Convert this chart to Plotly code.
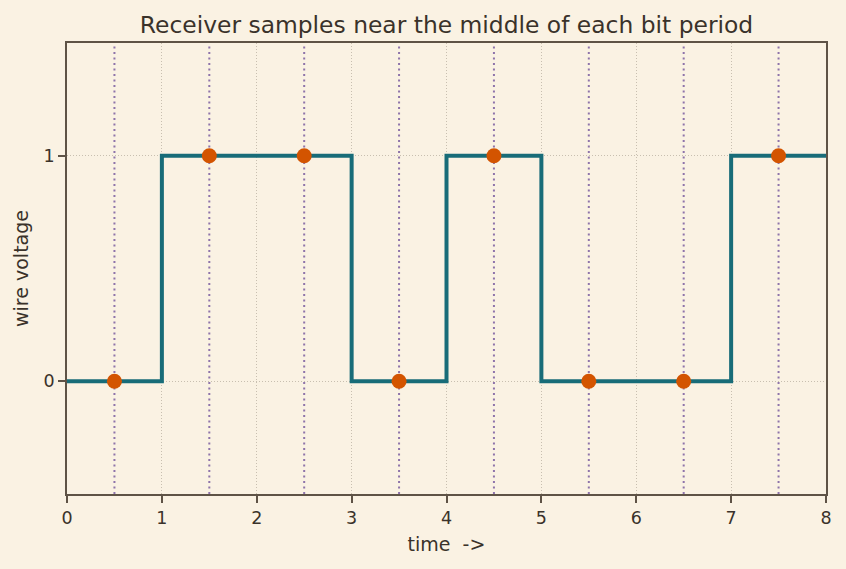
import plotly.graph_objects as go

bits = [0, 1, 1, 0, 1, 0, 0, 1]
bit_edges = [0, 1, 2, 3, 4, 5, 6, 7, 8]
sample_times = [0.5, 1.5, 2.5, 3.5, 4.5, 5.5, 6.5, 7.5]
sample_values = [0, 1, 1, 0, 1, 0, 0, 1]
x_ticks = [0, 1, 2, 3, 4, 5, 6, 7, 8]
y_ticks = [0, 1]

bg = "#faf2e3"
ink = "#3a322a"
frame = "#5e5346"

fig = go.Figure()
fig.add_trace(go.Scatter(
    x=bit_edges, y=bits + [bits[-1]], mode="lines", line_shape="hv",
    line=dict(color="#186c78", width=4), showlegend=False, hoverinfo="skip"))

for t in sample_times:
    fig.add_vline(x=t, line=dict(color="#8e74aa", width=2, dash="2px,3.5px"), layer="below")

fig.add_trace(go.Scatter(
    x=sample_times, y=sample_values, mode="markers",
    marker=dict(color="#d35400", size=15, line=dict(width=0)), showlegend=False))

axis_common = dict(
    showline=True, linecolor=frame, linewidth=1.6, mirror=True,
    ticks="outside", tickcolor=frame, ticklen=7, tickwidth=1.6,
    showgrid=True, gridcolor="#c8bfb0", griddash="1px,2px", gridwidth=1,
    zeroline=False, tickfont=dict(size=17.5, color=ink),
)

fig.update_layout(
    width=846, height=569,
    paper_bgcolor=bg, plot_bgcolor=bg,
    font=dict(family="DejaVu Sans", color=ink),
    margin=dict(l=67, r=20, t=43, b=75),
    title=dict(text="Receiver samples near the middle of each bit period",
               x=0.5, xref="paper", xanchor="center", y=0.956, yanchor="middle",
               font=dict(size=23.4, color=ink)),
    xaxis=dict(range=[0, 8], tickvals=x_ticks,
               title=dict(text="time  ->", font=dict(size=19, color=ink), standoff=11),
               **axis_common),
    yaxis=dict(range=[-0.5, 1.5], tickvals=y_ticks,
               title=dict(text="wire voltage", font=dict(size=19, color=ink), standoff=10),
               **axis_common),
)

fig.write_html("out.html")
